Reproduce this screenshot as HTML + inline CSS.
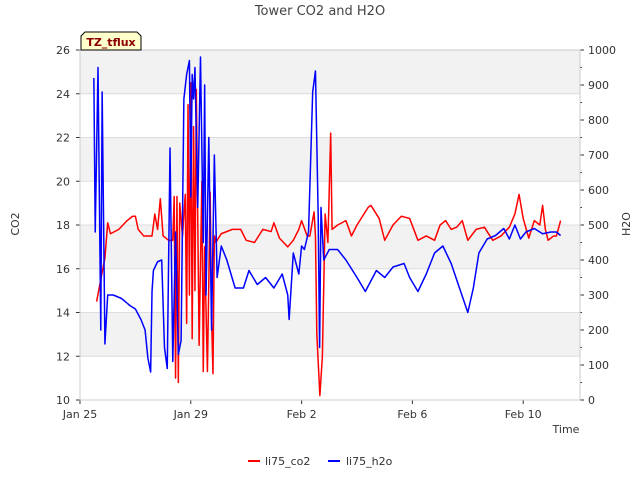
<!DOCTYPE html>
<html><head><meta charset="utf-8"><style>
body{margin:0;background:#fff;font-family:"Liberation Sans","DejaVu Sans",sans-serif}
svg text{font-family:"DejaVu Sans","Liberation Sans",sans-serif}
</style></head><body>
<svg id="c" width="640" height="480">
<rect width="640" height="480" fill="#fff"/>
<text x="320" y="15" text-anchor="middle" font-size="13" fill="#444">Tower CO2 and H2O</text>
<g id="bands"></g><g id="grid"></g><g id="axes"></g><g id="series"></g>
<text x="19" y="224" font-size="11" fill="#333" text-anchor="middle" transform="rotate(-90 19 224)">CO2</text>
<text x="630" y="224" font-size="11" fill="#333" text-anchor="middle" transform="rotate(-90 630 224)">H2O</text>
<text x="566" y="433" font-size="11" fill="#333" text-anchor="middle">Time</text>
<g><path d="M81,50 L81,36 L85,32 L137,32 L141,36 L141,50 Z" fill="#ffffcc" stroke="#000"/><text x="111" y="46" text-anchor="middle" font-size="11" font-weight="bold" fill="#8b0000">TZ_tflux</text></g>
<g>
<line x1="248" y1="461" x2="260" y2="461" stroke="red" stroke-width="2"/><text x="265" y="465" font-size="11" fill="#333">li75_co2</text>
<line x1="328" y1="461" x2="340" y2="461" stroke="blue" stroke-width="2"/><text x="346" y="465" font-size="11" fill="#333">li75_h2o</text>
</g>
</svg>
<script>
const xTickLabels=["Jan 25","Jan 29","Feb 2","Feb 6","Feb 10"];
const xTickDays=[0,4,8,12,16];
const yLeftTicks=[10,12,14,16,18,20,22,24,26];
const yRightTicks=[0,100,200,300,400,500,600,700,800,900,1000];
const co2Days=[0.6,0.9,1.0,1.1,1.4,1.7,1.9,2.0,2.1,2.3,2.5,2.6,2.7,2.8,2.9,3.0,3.2,3.35,3.4,3.45,3.5,3.55,3.6,3.7,3.8,3.85,3.9,3.95,4.0,4.05,4.1,4.15,4.2,4.3,4.4,4.45,4.5,4.6,4.7,4.75,4.8,4.85,4.9,5.1,5.5,5.8,6.0,6.3,6.6,6.9,7.0,7.2,7.5,7.7,7.9,8.0,8.2,8.3,8.45,8.5,8.55,8.66,8.75,8.85,8.95,9.05,9.1,9.3,9.6,9.8,10.0,10.4,10.5,10.8,11.0,11.3,11.6,11.9,12.2,12.5,12.8,13.0,13.2,13.4,13.6,13.8,14.0,14.3,14.6,14.9,15.2,15.5,15.7,15.85,16.0,16.2,16.4,16.6,16.7,16.8,16.9,17.1,17.2,17.35];
const co2Vals=[14.5,16.5,18.1,17.6,17.8,18.2,18.4,18.4,17.8,17.5,17.5,17.5,18.5,17.8,19.2,17.5,17.3,17.3,19.3,11.0,19.3,10.8,19.0,17.5,19.4,13.5,23.5,14.8,24.5,12.8,22.5,15,24.2,12.5,20,11.3,17,11.3,19.5,13.8,11.2,17.5,17.2,17.6,17.8,17.8,17.3,17.2,17.8,17.7,18.1,17.4,17.0,17.3,17.8,18.2,17.5,17.5,18.6,17.5,13,10.2,12,18.5,17.2,22.2,17.8,18,18.2,17.5,18,18.8,18.9,18.3,17.3,18.0,18.4,18.3,17.3,17.5,17.3,18.0,18.2,17.8,17.9,18.2,17.3,17.8,17.9,17.3,17.5,17.9,18.5,19.4,18.3,17.4,18.2,18.0,18.9,17.8,17.3,17.5,17.5,18.2];
const h2oDays=[0.5,0.55,0.65,0.75,0.8,0.9,1.0,1.2,1.5,1.8,2.0,2.2,2.35,2.45,2.55,2.6,2.65,2.8,2.95,3.05,3.15,3.25,3.35,3.45,3.55,3.65,3.75,3.85,3.95,4.0,4.05,4.1,4.15,4.25,4.35,4.45,4.5,4.55,4.65,4.75,4.85,4.95,5.1,5.3,5.6,5.9,6.1,6.4,6.7,7.0,7.3,7.5,7.55,7.7,7.9,8.0,8.1,8.25,8.4,8.5,8.6,8.65,8.7,8.8,9.0,9.3,9.6,10.0,10.3,10.7,11.0,11.3,11.7,11.9,12.2,12.5,12.8,13.1,13.4,13.7,14.0,14.2,14.4,14.7,15.0,15.3,15.5,15.7,15.9,16.1,16.4,16.7,17.0,17.2,17.35];
const h2oVals=[920,480,950,200,880,160,300,300,290,270,260,230,200,120,80,310,370,395,400,150,90,720,110,480,130,170,860,930,970,580,930,860,950,550,980,450,900,300,750,200,700,350,440,400,320,320,370,330,350,320,360,300,230,420,360,440,430,480,880,940,520,150,550,400,430,430,400,350,310,370,350,380,390,350,310,360,420,440,390,320,250,320,420,460,470,490,460,500,460,480,490,475,480,480,470];
const NS='http://www.w3.org/2000/svg';
const L=80,R=580,T=50,B=400;
const xs=d=>L+d*27.7;
const yl=v=>B-(v-10)*(B-T)/16;
const yr=v=>B-v*(B-T)/1000;
function mk(p,tag,at){const e=document.createElementNS(NS,tag);for(const k in at)e.setAttribute(k,at[k]);document.getElementById(p).appendChild(e);return e;}
for(let i=0;i<8;i+=2){const r=mk('bands','rect',{x:L,y:yl(yLeftTicks[8-i]),width:R-L,height:yl(yLeftTicks[7-i])-yl(yLeftTicks[8-i]),fill:'#f2f2f2'});

}
yLeftTicks.forEach(v=>{const g=mk('grid','line',{x1:L,x2:R,y1:yl(v),y2:yl(v),stroke:'#ddd'});


mk('axes','line',{x1:L-4,x2:L,y1:yl(v),y2:yl(v),stroke:'#333'});
const t=mk('axes','text',{x:L-10,y:yl(v)+4,'text-anchor':'end','font-size':11,fill:'#333'});t.textContent=v;

});
yRightTicks.forEach(v=>{mk('axes','line',{x1:R,x2:R+4,y1:yr(v),y2:yr(v),stroke:'#333'});
if(v<1000)mk('axes','line',{x1:R,x2:R+2,y1:yr(v+50),y2:yr(v+50),stroke:'#333'});
const t=mk('axes','text',{x:R+8,y:yr(v)+4,'font-size':11,fill:'#333'});t.textContent=v;

});
xTickDays.forEach((d,i)=>{mk('axes','line',{x1:xs(d),x2:xs(d),y1:B,y2:B+4,stroke:'#333'});
const t=mk('axes','text',{x:xs(d),y:B+18,'text-anchor':'middle','font-size':11,fill:'#333'});t.textContent=xTickLabels[i];

});
mk('axes','rect',{x:L,y:T,width:R-L,height:B-T,fill:'none',stroke:'#ccc'});
const pc=mk('series','polyline',{points:co2Days.map((d,i)=>xs(d)+','+yl(co2Vals[i])).join(' '),fill:'none',stroke:'red','stroke-width':1.5,'stroke-linejoin':'round'});


const ph=mk('series','polyline',{points:h2oDays.map((d,i)=>xs(d)+','+yr(h2oVals[i])).join(' '),fill:'none',stroke:'blue','stroke-width':1.5,'stroke-linejoin':'round'});


</script>
</body></html>
